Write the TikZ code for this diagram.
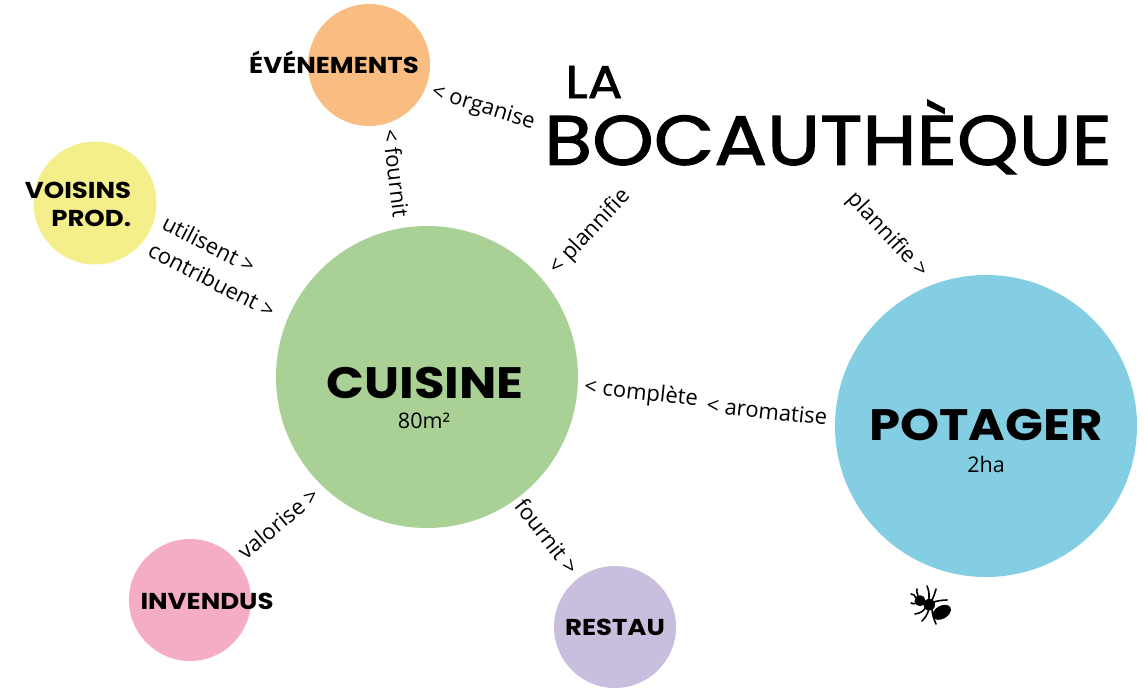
\documentclass[tikz,border=0pt]{standalone}
\usepackage{fontspec}
\setmainfont{Open Sans}
\newfontfamily\headfont[FakeStretch=1.13]{Poppins}
\newfontfamily\titlefont[FakeStretch=1.12,FakeBold=1.6]{Poppins}
\definecolor{mCuisine}{HTML}{A9D195}
\definecolor{mPotager}{HTML}{83CEE3}
\definecolor{mEvent}{HTML}{F9BD82}
\definecolor{mVoisins}{HTML}{F4EF8A}
\definecolor{mInvendus}{HTML}{F5ADC6}
\definecolor{mRestau}{HTML}{CABEDF}
\newcommand{\headsize}[1]{\fontsize{#1}{#1}\selectfont\headfont}
\newcommand{\titlesize}[1]{\fontsize{#1}{#1}\selectfont\titlefont}
\begin{document}
\begin{tikzpicture}[x=1pt,y=-1pt,
  disc/.style={circle, inner sep=0pt, minimum size=#1*2pt},
  linklabel/.style={inner sep=0pt, font=\fontsize{22}{22}\selectfont},
  smalltag/.style={inner sep=0pt, font=\fontsize{21.5}{21.5}\selectfont},
  antleg/.style={line width=1.6pt, line cap=round}]
\useasboundingbox (0,0) rectangle (1144,697);
% discs
\node[disc=151, fill=mCuisine] (cuisine) at (427,377) {};
\node[disc=151, fill=mPotager] (potager) at (986,426) {};
\node[disc=61, fill=mEvent] (evenements) at (369,65) {};
\node[disc=61.5, fill=mVoisins] (voisins) at (95,203) {};
\node[disc=61, fill=mInvendus] (invendus) at (190,600) {};
\node[disc=61, fill=mRestau] (restau) at (615,627) {};
% disc titles
\node[inner sep=0pt, font=\headsize{44}\bfseries] (cuisinetxt) at (425,383) {CUISINE};
\node[smalltag] (cuisinearea) at (424,421) {80m²};
\node[inner sep=0pt, font=\headsize{44}\bfseries] (potagertxt) at (986,425) {POTAGER};
\node[smalltag] (potagerarea) at (986,464) {2ha};
\node[inner sep=0pt, font=\headsize{23}\bfseries] (evenementstxt) at (334,62) {ÉVÉNEMENTS};
\node[inner sep=0pt, font=\headsize{23}\bfseries, align=right] (voisinstxt) at (78,204) {VOISINS\\[5pt]PROD.};
\node[inner sep=0pt, font=\headsize{23}\bfseries] (invendustxt) at (207,601) {INVENDUS};
\node[inner sep=0pt, font=\headsize{23}\bfseries] (restautxt) at (615,627) {RESTAU};
% title
\node[inner sep=0pt, font=\titlesize{46}] (la) at (594,82) {LA};
\node[inner sep=0pt, font=\titlesize{70}] (bocau) at (828,137) {BOCAUTHÈQUE};
% relations
\node[linklabel, rotate=-17] (organise) at (483,108) {< organise};
\node[linklabel, rotate=-83] (fournita) at (396,173) {< fournit};
\node[linklabel, rotate=47] (plannifea) at (590,232) {< plannifie};
\node[linklabel, rotate=-47] (plannifeb) at (887,235) {plannifie >};
\node[linklabel, rotate=-27] (utilisent) at (209,244) {utilisent >};
\node[linklabel, rotate=-27] (contribuent) at (212,280) {contribuent >};
\node[linklabel, rotate=-6] (complete) at (641,394) {< complète};
\node[linklabel, rotate=-6] (aromatise) at (767,411) {< aromatise};
\node[linklabel, rotate=40] (valorise) at (278,523) {valorise >};
\node[linklabel, rotate=-52] (fournitb) at (547,536) {fournit >};
% ant
\fill (920,600.7) circle (5.5);
\fill (929.3,604.7) circle (5.8);
\fill[rotate around={30:(941.7,612.3)}] (941.7,612.3) ellipse (10 and 6.5);
\draw[antleg] (928,603) .. controls (930,595) and (929,591) .. (927,586);
\draw[antleg] (931,602) .. controls (934,596) and (935,593) .. (936,589);
\draw[antleg] (933,602) .. controls (938,601) and (942,600) .. (947,600);
\draw[antleg] (926,607) .. controls (923,612) and (920,613) .. (915,614);
\draw[antleg] (929,608) .. controls (928,614) and (925,618) .. (922,621);
\draw[antleg] (932,608) .. controls (932,615) and (934,619) .. (936,624);
\draw[antleg] (918,597) .. controls (918,592) and (915,591) .. (917,589);
\draw[antleg] (916,598) .. controls (915,595) and (913,594) .. (911,594);
\draw[antleg] (916,603) .. controls (914,604) and (913,604) .. (911,603);
\end{tikzpicture}
\end{document}
